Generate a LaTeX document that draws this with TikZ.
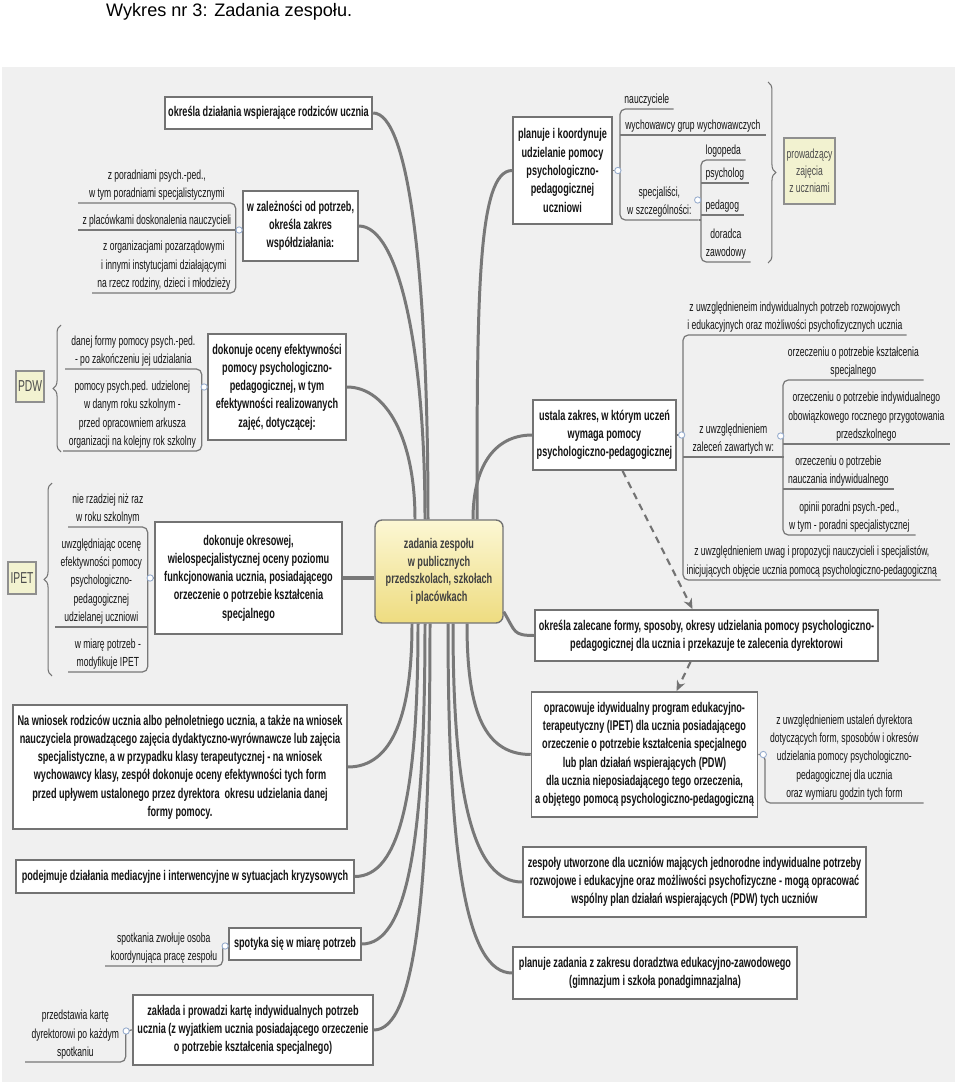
\documentclass[tikz,border=0pt]{standalone}
\usepackage{fontspec}
\setmainfont[FakeStretch=0.65]{Liberation Sans}
\newfontfamily\titlefont{Liberation Sans}
\usepackage{xcolor}
\usepackage{tikz}
\usetikzlibrary{arrows.meta, calc, positioning, decorations.pathreplacing}
\definecolor{mybg}{RGB}{240,240,240}
\definecolor{myline}{RGB}{120,120,120}
\definecolor{myborder}{RGB}{115,115,115}
\definecolor{mytext}{RGB}{20,20,20}
\definecolor{mylabel}{RGB}{242,242,208}
\definecolor{mytop}{RGB}{252,247,212}
\definecolor{mybottom}{RGB}{238,220,128}
\definecolor{mydot}{RGB}{150,172,205}
\tikzstyle{topic} = [draw=myborder, line width=1pt, fill=white, align=center, inner sep=2pt, font=\fontsize{8}{10.4}\selectfont\bfseries, text=mytext]
\tikzstyle{sub} = [align=center, inner sep=1.5pt, anchor=south west, font=\fontsize{7.5}{10.4}\selectfont, text=mytext]
\tikzstyle{link} = [myline, line width=1.7pt]
\tikzstyle{uline} = [myline, line width=0.7pt, rounded corners=3pt]

\begin{document}
\begin{tikzpicture}[x=0.02cm, y=-0.02cm,
    notebox/.style={draw=myborder!80, line width=0.7pt, fill=mylabel, align=center, inner sep=1pt, text=black!70},
    brace/.style={decorate, decoration={brace, amplitude=4.5pt}, myborder, line width=0.6pt},
    dasharrow/.style={black!55, line width=1.2pt, dash pattern=on 4pt off 3pt, -{Stealth[length=6pt, width=5pt]}},
    dot/.style={draw=mydot, fill=white, line width=0.5pt}]
    \useasboundingbox (0,0) rectangle (960,1084);
    \fill[mybg] (2,67) rectangle (955,1082);
    \node[font=\titlefont\fontsize{10.3}{12}\selectfont, anchor=west] (title) at (100,12) {Wykres nr 3: Zadania zespołu.};

    \node[draw=myborder, line width=0.8pt, rounded corners=4pt, top color=mytop, bottom color=mybottom, minimum width=2.56cm, minimum height=2.06cm, align=center, font=\fontsize{8}{10}\selectfont\bfseries, text=black!75] (zad) at (439,571.5) {zadania zespołu\\w publicznych\\przedszkolach, szkołach\\i placówkach};

    \node[topic, minimum width=4.14cm, minimum height=0.64cm] (rodzice) at (268.5,113) {określa działania wspierające rodziców ucznia};
    \node[topic, minimum width=2.3cm, minimum height=1.4cm] (wspol) at (300.5,226) {w zależności od potrzeb,\\określa zakres\\współdziałania:};
    \node[topic, minimum width=2.76cm, minimum height=2.12cm] (ocena) at (277,387) {dokonuje oceny efektywności\\pomocy psychologiczno-\\pedagogicznej, w tym\\efektywności realizowanych\\zajęć, dotyczącej:};
    \node[topic, minimum width=3.74cm, minimum height=2.24cm] (okres) at (248.5,578) {dokonuje okresowej,\\wielospecjalistycznej oceny poziomu\\funkcjonowania ucznia, posiadającego\\orzeczenie o potrzebie kształcenia\\specjalnego};
    \node[topic, minimum width=6.68cm, minimum height=2.48cm] (wniosek) at (180,767) {Na wniosek rodziców ucznia albo pełnoletniego ucznia, a także na wniosek\\nauczyciela prowadzącego zajęcia dydaktyczno-wyrównawcze lub zajęcia\\specjalistyczne, a w przypadku klasy terapeutycznej - na wniosek\\wychowawcy klasy, zespół dokonuje oceny efektywności tych form\\przed upływem ustalonego przez dyrektora\ \ okresu udzielania danej\\formy pomocy.};
    \node[topic, minimum width=6.76cm, minimum height=0.66cm] (kryzys) at (185,876.5) {podejmuje działania mediacyjne i interwencyjne w sytuacjach kryzysowych};
    \node[topic, minimum width=2.64cm, minimum height=0.64cm] (spotkania) at (295,944) {spotyka się w miarę potrzeb};
    \node[topic, minimum width=4.8cm, minimum height=1.4cm] (karta) at (253,1030) {zakłada i prowadzi kartę indywidualnych potrzeb\\ucznia (z wyjatkiem ucznia posiadającego orzeczenie\\o potrzebie kształcenia specjalnego)};

    \node[topic, minimum width=1.98cm, minimum height=2.14cm] (koord) at (562.5,170.5) {planuje i koordynuje\\udzielanie pomocy\\psychologiczno-\\pedagogicznej\\uczniowi};
    \node[topic, minimum width=2.82cm, minimum height=1.4cm] (zakres) at (604.5,435) {ustala zakres, w którym uczeń\\wymaga pomocy\\psychologiczno-pedagogicznej};
    \node[topic, minimum width=6.78cm, minimum height=1.02cm] (formy) at (706.5,635.5) {określa zalecane formy, sposoby, okresy udzielania pomocy psychologiczno-\\pedagogicznej dla ucznia i przekazuje te zalecenia dyrektorowi};
    \node[topic, minimum width=4.5cm, minimum height=2.5cm] (program) at (644.5,754.5) {opracowuje idywidualny program edukacyjno-\\terapeutyczny (IPET) dla ucznia posiadającego\\orzeczenie o potrzebie kształcenia specjalnego\\lub plan działań wspierających (PDW)\\dla ucznia nieposiadającego tego orzeczenia,\\a objętego pomocą psychologiczno-pedagogiczną};
    \node[topic, minimum width=6.86cm, minimum height=1.4cm] (zespoly) at (694.5,882) {zespoły utworzone dla uczniów mających jednorodne indywidualne potrzeby\\rozwojowe i edukacyjne oraz możliwości psychofizyczne - mogą opracować\\wspólny plan działań wspierających (PDW) tych uczniów};
    \node[topic, minimum width=5.68cm, minimum height=1.04cm] (doradztwo) at (655,973) {planuje zadania z zakresu doradztwa edukacyjno-zawodowego\\(gimnazjum i szkoła ponadgimnazjalna)};

    \draw[link] (rodzice.east) .. controls +(35,0) and +(0,-250) .. ($(zad.north)+(-11,0)$);
    \draw[link] (wspol.east) .. controls +(40,0) and +(0,-170) .. ($(zad.north)+(-14,0)$);
    \draw[link] (ocena.east) .. controls +(40,0) and +(0,-80) .. ($(zad.north)+(-24,0)$);
    \draw[link, line width=2.6pt] (okres.east) -- (okres.east -| zad.west);
    \draw[link] (koord.west) .. controls +(-35,0) and +(0,-220) .. ($(zad.north)+(38,0)$);
    \draw[link] (zakres.west) .. controls +(-40,0) and +(0,-50) .. ($(zad.north)+(34,0)$);
    \draw[link] ($(zad.south east)+(0,-12)$) .. controls +(12,20) and +(-22,0) .. (formy.west);
    \draw[link] ($(zad.south)+(-27,0)$) .. controls +(0,90) and +(45,0) .. (wniosek.east);
    \draw[link] ($(zad.south)+(-21,0)$) .. controls +(0,170) and +(45,0) .. (kryzys.east);
    \draw[link] ($(zad.south)+(-14,0)$) .. controls +(0,220) and +(45,0) .. (spotkania.east);
    \draw[link] ($(zad.south)+(-9,0)$) .. controls +(0,280) and +(40,0) .. (karta.east);
    \draw[link] ($(zad.south)+(28,0)$) .. controls +(0,80) and +(-50,0) .. (program.west);
    \draw[link] ($(zad.south)+(14,0)$) .. controls +(0,170) and +(-50,0) .. (zespoly.west);
    \draw[link] ($(zad.south)+(9,0)$) .. controls +(0,240) and +(-45,0) .. (doradztwo.west);

    \draw[dasharrow] ($(zakres.south)+(18,0)$) -- ($(formy.north)+(-14,0)$);
    \draw[dasharrow] ($(formy.south)+(-16,0)$) -- ($(program.north)+(32,0)$);

    \node[sub, minimum width=3.14cm] (wspolA) at (78,203) {z poradniami psych.-ped.,\\w tym poradniami specjalistycznymi};
    \node[sub, minimum width=3.14cm] (wspolB) at (78,230) {z placówkami doskonalenia nauczycieli};
    \node[sub, minimum width=2.86cm] (wspolC) at (92,293) {z organizacjami pozarządowymi\\i innymi instytucjami działającymi\\na rzecz rodziny, dzieci i młodzieży};
    \draw[uline] (wspolA.south west) -- (wspolA.south east) -- (wspolC.south east) -- (wspolC.south west);
    \draw[uline] (wspolB.south west) -- (wspolB.south east) -- (wspolB.south east -| wspol.west);

    \node[sub, minimum width=2.72cm] (ocenaA) at (65,369) {danej formy pomocy psych.-ped.\\- po zakończeniu jej udzialania};
    \node[sub, minimum width=2.76cm] (ocenaB) at (63,451) {pomocy psych.ped. udzielonej\\w danym roku szkolnym -\\przed opracowniem arkusza\\organizacji na kolejny rok szkolny};
    \draw[uline] (ocenaA.south west) -- (ocenaA.south east) -- (ocenaB.south east) -- (ocenaB.south west);
    \draw[uline] (ocena.west) -- (ocena.west -| ocenaA.south east);
    \node[notebox, minimum width=0.56cm, minimum height=0.62cm, font=\fontsize{9}{10}\selectfont] (pdw) at (30,386.5) {PDW};
    \draw[brace] (61,452) -- (61,325);

    \node[sub, minimum width=1.58cm] (okresA) at (68,527) {nie rzadziej niż raz\\w roku szkolnym};
    \node[sub, minimum width=1.84cm] (okresB) at (55,627) {uwzględniając ocenę\\efektywności pomocy\\psychologiczno-\\pedagogicznej\\udzielanej uczniowi};
    \node[sub, minimum width=1.58cm] (okresC) at (68,672) {w miarę potrzeb -\\modyfikuje IPET};
    \draw[uline] (okresA.south west) -- (okresA.south east) -- (okresC.south east) -- (okresC.south west);
    \draw[uline] (okresB.south west) -- (okresB.south east);
    \draw[uline] (okres.west) -- (okres.west -| okresA.south east);
    \node[notebox, minimum width=0.56cm, minimum height=0.64cm, font=\fontsize{9}{10}\selectfont] (ipetlab) at (22,578) {IPET};
    \draw[brace] (52,676) -- (52,483);

    \node[sub, minimum width=1.06cm] (koordA) at (620,109) {nauczyciele};
    \node[sub, minimum width=2.9cm] (koordB) at (620,135) {wychowawcy grup wychowawczych};
    \node[sub, minimum width=1.56cm] (koordC) at (620,220) {specjaliści,\\w szczególności:};
    \draw[uline] (koordA.south east) -- (koordA.south west) -- (koordC.south west) -- (koordC.south east);
    \draw[uline] (koordB.south west) -- (koordB.south east);
    \draw[uline] (koord.east) -- (koord.east -| koordA.south west);

    \node[sub, minimum width=0.88cm] (specA) at (701,160) {logopeda};
    \node[sub, minimum width=0.94cm] (specB) at (701,183) {psycholog};
    \node[sub, minimum width=0.84cm] (specC) at (701,215) {pedagog};
    \node[sub, minimum width=0.98cm] (specD) at (701,262) {doradca\\zawodowy};
    \draw[uline] (specA.south east) -- (specA.south west) -- (specD.south west) -- (specD.south east);
    \draw[uline] (specB.south west) -- (specB.south east);
    \draw[uline] (specC.south west) -- (specC.south east);
    \draw[uline] (koordC.south east) -- (koordC.south east -| specA.south west);
    \draw[brace] (768,82) -- (768,263);
    \node[notebox, minimum width=1.02cm, minimum height=1.32cm, font=\fontsize{7.5}{9.6}\selectfont] (prow) at (809.5,171) {prowadzący\\zajęcia\\z uczniami};

    \node[sub, minimum width=4.46cm] (zakresA) at (683,335) {z uwzględnieneim indywidualnych potrzeb rozwojowych\\i edukacyjnych oraz możliwości psychofizycznych ucznia};
    \node[sub, minimum width=2.0cm] (zakresB) at (683,457) {z uwzględnieniem\\zaleceń zawartych w:};
    \node[sub, minimum width=5.14cm] (zakresC) at (683,580) {z uwzględnieniem uwag i propozycji nauczycieli i specjalistów,\\inicjujących objęcie ucznia pomocą psychologiczno-pedagogiczną};
    \draw[uline] (zakresA.south east) -- (zakresA.south west) -- (zakresC.south west) -- (zakresC.south east);
    \draw[uline] (zakresB.south west) -- (zakresB.south east);
    \draw[uline] (zakres.east) -- (zakres.east -| zakresA.south west);

    \node[sub, minimum width=2.8cm] (zalA) at (783,380) {orzeczeniu o potrzebie kształcenia\\specjalnego};
    \node[sub, minimum width=3.32cm] (zalB) at (783,444) {orzeczeniu o potrzebie indywidualnego\\obowiązkowego rocznego przygotowania\\przedszkolnego};
    \node[sub, minimum width=2.2cm] (zalC) at (783,489) {orzeczeniu o potrzebie\\nauczania indywidualnego};
    \node[sub, minimum width=2.64cm] (zalD) at (783,535) {opinii poradni psych.-ped.,\\w tym - poradni specjalistycznej};
    \draw[uline] (zalA.south east) -- (zalA.south west) -- (zalD.south west) -- (zalD.south east);
    \draw[uline] (zalB.south west) -- (zalB.south east);
    \draw[uline] (zalC.south west) -- (zalC.south east);

    \node[sub, minimum width=3.16cm] (programA) at (765,803) {z uwzględnieniem ustaleń dyrektora\\dotyczących form, sposobów i okresów\\udzielania pomocy psychologiczno-\\pedagogicznej dla ucznia\\oraz wymiaru godzin tych form};
    \draw[uline] (program.east) -- (program.east -| programA.south west) -- (programA.south west) -- (programA.south east);

    \node[sub, minimum width=2.34cm] (spotkaniaA) at (105,966) {spotkania zwołuje osoba\\koordynująca pracę zespołu};
    \draw[uline] (spotkania.west) -- (spotkania.west -| spotkaniaA.south east) -- (spotkaniaA.south east) -- (spotkaniaA.south west);

    \node[sub, minimum width=2.0cm] (kartaA) at (25,1062) {przedstawia kartę\\dyrektorowi po każdym\\spotkaniu};
    \draw[uline] (karta.west) -- (karta.west -| kartaA.south east) -- (kartaA.south east) -- (kartaA.south west);

    \draw[dot] ($(wspol.west)+(-3,4)$) circle (1.8pt);
    \draw[dot] ($(ocena.west)+(-3,0)$) circle (1.8pt);
    \draw[dot] ($(okres.west)+(-4,0)$) circle (1.8pt);
    \draw[dot] ($(koord.east)+(5,0)$) circle (1.8pt);
    \draw[dot] ($(koordC.south east)+(-1,-20)$) circle (1.8pt);
    \draw[dot] ($(zakres.east)+(5,0)$) circle (1.8pt);
    \draw[dot] ($(zakresB.south east)+(-3,-21)$) circle (1.8pt);
    \draw[dot] ($(program.east)+(5,0)$) circle (1.8pt);
    \draw[dot] ($(spotkania.west)+(-3,2)$) circle (1.8pt);
    \draw[dot] ($(karta.west)+(-6,1)$) circle (1.8pt);
\end{tikzpicture}
\end{document}
